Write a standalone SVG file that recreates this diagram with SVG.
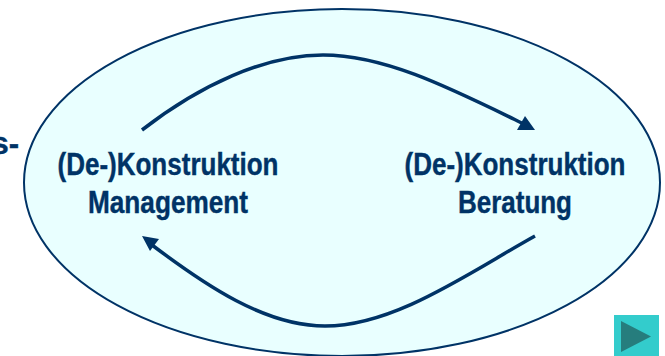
<svg xmlns="http://www.w3.org/2000/svg" width="665" height="356" viewBox="0 0 665 356">
<style>
.lbl{font-family:"Liberation Sans",Arial,sans-serif;font-weight:700;font-size:31px;fill:#003366;stroke:#003366;stroke-width:0.4;text-anchor:middle}
.conn{fill:none;stroke:#003366;stroke-width:3.500}
.head{fill:#003366}
</style>
<rect width="665" height="356" fill="#ffffff"/>
<g id="ellipse"><ellipse cx="342" cy="182.500" rx="318" ry="173.500" fill="#e9ffff" stroke="#003366" stroke-width="2"/></g>
<text class="lbl" x="19" y="154" style="text-anchor:end">s-</text>
<g id="connectors">
<path class="conn" d="M142 130C200 85 265 55 323 55C385 55 450 88 524 124"/>
<polygon class="head" points="535,130 517,130 525,116"/>
<path class="conn" d="M535 236C470 272 395 326 325 326C265 326 205 285 152 245"/>
<polygon class="head" points="142,236 159,239 150,251"/>
</g>
<g id="node-management"><text class="lbl" x="168" y="175" textLength="221" lengthAdjust="spacingAndGlyphs">(De-)Konstruktion</text><text class="lbl" x="168" y="213" textLength="160" lengthAdjust="spacingAndGlyphs">Management</text></g>
<g id="node-beratung"><text class="lbl" x="515" y="175" textLength="221" lengthAdjust="spacingAndGlyphs">(De-)Konstruktion</text><text class="lbl" x="515" y="213" textLength="114" lengthAdjust="spacingAndGlyphs">Beratung</text></g>
<g id="next-button"><rect x="614" y="315" width="45" height="41" fill="#33cccc"/><polygon points="621,321 651,336.500 621,352" fill="#267d7d"/></g>
</svg>
